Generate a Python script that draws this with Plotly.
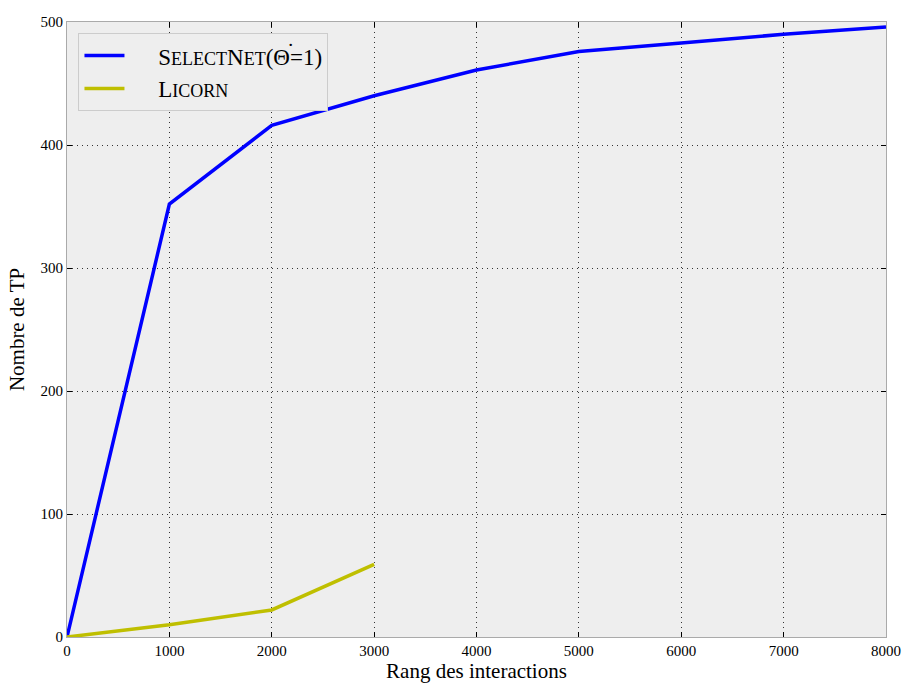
import plotly.graph_objects as go

x_select = [0, 1000, 2000, 3000, 4000, 5000, 6000, 7000, 8000]
y_select = [0, 352, 416, 440, 461, 476, 483, 490, 496]
x_licorn = [0, 1000, 2000, 3000]
y_licorn = [0, 10, 22, 59]

x_ticks = [0, 1000, 2000, 3000, 4000, 5000, 6000, 7000, 8000]
y_ticks = [0, 100, 200, 300, 400, 500]

SC = "font-size:18px"
PAD = "\u00a0" * 5
name_select = f"{PAD}S<span style='{SC}'>ELECT</span>N<span style='{SC}'>ET</span>(\u0398=1)"
name_licorn = f"{PAD}L<span style='{SC}'>ICORN</span>"

FONT = "Liberation Serif, DejaVu Serif, serif"

fig = go.Figure()
fig.add_trace(go.Scatter(x=x_select, y=y_select, mode="lines", name=name_select,
                         line=dict(color="#0000ff", width=3.5)))
fig.add_trace(go.Scatter(x=x_licorn, y=y_licorn, mode="lines", name=name_licorn,
                         line=dict(color="#bfbf00", width=3.5)))

axis_common = dict(
    showgrid=True, gridcolor="#333333", griddash="1px,4px", gridwidth=1,
    ticks="inside", ticklen=5, tickcolor="black", mirror="ticks",
    showline=True, linecolor="#aaaaaa", linewidth=1, zeroline=False,
    automargin=False,
    tickfont=dict(family=FONT, size=15, color="black"),
)

fig.update_layout(
    width=902, height=684,
    margin=dict(l=67, r=16, t=22, b=47),
    paper_bgcolor="white", plot_bgcolor="#eeeeee",
    font=dict(family=FONT, color="black"),
    xaxis=dict(range=[0, 8000], tickvals=x_ticks, ticktext=[str(v) for v in x_ticks],
               title=dict(text="Rang des interactions", font=dict(size=21), standoff=4),
               **axis_common),
    yaxis=dict(range=[0, 500], tickvals=y_ticks, ticktext=[str(v) for v in y_ticks],
               title=dict(text="Nombre de TP", font=dict(size=21), standoff=10),
               **axis_common),
    legend=dict(x=0.014, y=0.982, xanchor="left", yanchor="top",
                bgcolor="#eeeeee", bordercolor="#cccccc", borderwidth=1,
                font=dict(size=23, family=FONT),
                tracegroupgap=0, itemwidth=40),
    showlegend=True,
)

# dot accent over the Theta in the legend label
fig.add_annotation(text="\u02d9", xref="paper", yref="paper", x=0.2735, y=0.9535,
                   xanchor="center", yanchor="middle", showarrow=False,
                   font=dict(size=22, family=FONT, color="black"))

fig.write_html("out.html", config={"displayModeBar": False},
               post_script="document.body.style.margin='0';document.body.style.padding='0';")
